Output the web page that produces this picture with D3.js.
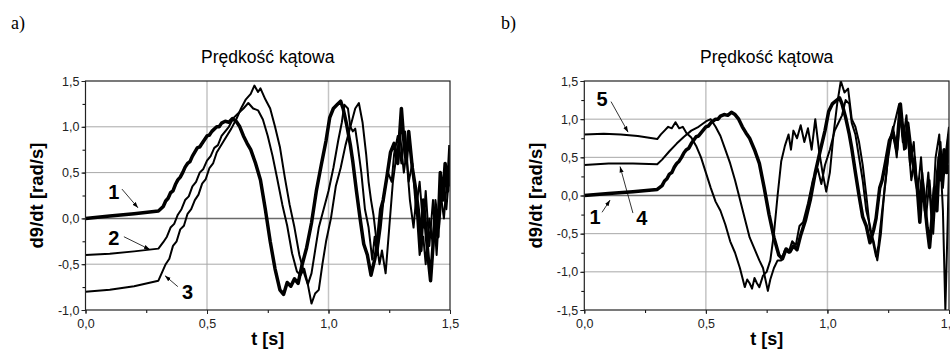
<!DOCTYPE html>
<html>
<head>
<meta charset="utf-8">
<script src="https://cdn.jsdelivr.net/npm/d3@7"></script>
<style>
  body { margin: 0; background: #fff; }
  svg { display: block; }
</style>
</head>
<body>
<svg width="950" height="354"></svg>
<script>
// ---- data (t [s], dθ/dt [rad/s]) ----
const curve1 = [[0,0],[0.1,0.025],[0.2,0.05],[0.3,0.08],[0.32,0.13],[0.33,0.19],[0.34,0.22],[0.35,0.28],[0.36,0.3],[0.37,0.37],[0.38,0.42],[0.39,0.45],[0.4,0.5],[0.41,0.56],[0.42,0.6],[0.43,0.62],[0.44,0.68],[0.46,0.77],[0.47,0.78],[0.48,0.82],[0.5,0.9],[0.51,0.91],[0.52,0.95],[0.54,1.0],[0.55,1.0],[0.56,1.04],[0.575,1.06],[0.59,1.05],[0.605,1.09],[0.62,1.06],[0.635,1.0],[0.65,0.9],[0.665,0.82],[0.68,0.75],[0.7,0.6],[0.72,0.42],[0.74,0.1],[0.76,-0.25],[0.78,-0.55],[0.8,-0.78],[0.815,-0.83],[0.83,-0.7],[0.845,-0.74],[0.86,-0.66],[0.875,-0.71],[0.89,-0.52],[0.91,-0.32],[0.93,-0.05],[0.95,0.3],[0.97,0.58],[0.99,0.85],[1.005,1.1],[1.02,1.2],[1.035,1.24],[1.05,1.28],[1.06,1.2],[1.075,1.02],[1.09,0.8],[1.1,0.62],[1.115,0.3],[1.13,0.0],[1.145,-0.28],[1.16,-0.4],[1.175,-0.62],[1.19,-0.45],[1.2,-0.3],[1.215,0.1],[1.225,0.2],[1.24,0.45],[1.255,0.72],[1.27,0.82],[1.285,0.6],[1.3,1.2],[1.31,0.85],[1.32,0.62],[1.33,0.95],[1.345,0.55],[1.36,0.3],[1.37,0.08],[1.38,-0.35],[1.39,0.2],[1.4,-0.1],[1.41,-0.42],[1.42,-0.68],[1.43,-0.3],[1.44,0.1],[1.45,-0.2],[1.46,0.5],[1.47,0.2],[1.48,0.6],[1.49,0.3],[1.5,0.8]];

const curve2 = [[0,-0.4],[0.1,-0.385],[0.2,-0.36],[0.3,-0.33],[0.32,-0.26],[0.335,-0.2],[0.35,-0.1],[0.365,-0.06],[0.38,0.04],[0.395,0.1],[0.41,0.2],[0.425,0.24],[0.44,0.35],[0.455,0.4],[0.47,0.5],[0.485,0.54],[0.5,0.63],[0.515,0.68],[0.53,0.77],[0.545,0.8],[0.56,0.9],[0.59,1.0],[0.61,1.1],[0.63,1.15],[0.65,1.2],[0.67,1.26],[0.69,1.2],[0.71,1.18],[0.73,1.08],[0.75,0.9],[0.77,0.68],[0.79,0.42],[0.81,0.15],[0.83,-0.08],[0.85,-0.38],[0.87,-0.58],[0.885,-0.62],[0.9,-0.55],[0.915,-0.72],[0.93,-0.6],[0.945,-0.35],[0.96,-0.1],[0.98,0.1],[1.0,0.3],[1.02,0.55],[1.04,0.85],[1.055,1.05],[1.065,1.24],[1.08,1.2],[1.09,1.0],[1.1,0.95],[1.11,0.98],[1.12,0.8],[1.135,0.5],[1.15,0.1],[1.165,-0.1],[1.18,-0.45],[1.19,-0.2],[1.2,-0.4],[1.215,-0.1],[1.23,0.3],[1.245,0.5],[1.26,0.4],[1.27,0.7],[1.285,0.9],[1.3,0.6],[1.315,0.95],[1.33,0.4],[1.345,0.6],[1.36,0.1],[1.375,0.4],[1.39,-0.1],[1.4,0.3],[1.415,-0.3],[1.43,0.2],[1.445,-0.4],[1.46,0.3],[1.475,0.0],[1.49,0.5],[1.5,0.35]];

const curve3 = [[0,-0.8],[0.1,-0.78],[0.2,-0.74],[0.3,-0.68],[0.31,-0.62],[0.33,-0.5],[0.345,-0.44],[0.36,-0.3],[0.375,-0.25],[0.39,-0.12],[0.405,-0.08],[0.42,0.05],[0.435,0.1],[0.45,0.2],[0.465,0.26],[0.48,0.38],[0.495,0.43],[0.51,0.55],[0.525,0.6],[0.54,0.72],[0.57,0.85],[0.6,0.98],[0.62,1.08],[0.64,1.2],[0.66,1.3],[0.68,1.36],[0.695,1.45],[0.71,1.38],[0.72,1.42],[0.74,1.3],[0.76,1.2],[0.78,1.0],[0.8,0.78],[0.82,0.45],[0.84,0.15],[0.86,-0.1],[0.88,-0.4],[0.9,-0.6],[0.915,-0.72],[0.93,-0.93],[0.945,-0.82],[0.96,-0.78],[0.975,-0.5],[0.99,-0.25],[1.01,0.0],[1.03,0.35],[1.05,0.55],[1.07,0.8],[1.09,1.0],[1.11,1.2],[1.125,1.26],[1.14,1.05],[1.155,0.7],[1.165,0.4],[1.175,0.2],[1.185,0.04],[1.2,-0.3],[1.21,-0.5],[1.22,-0.35],[1.235,-0.6],[1.25,-0.1],[1.265,0.4],[1.28,0.7],[1.295,0.9],[1.31,0.5],[1.32,0.7],[1.335,0.2],[1.35,-0.1],[1.36,0.2],[1.375,-0.4],[1.39,-0.2],[1.4,-0.5],[1.415,0.0],[1.43,-0.3],[1.44,0.2],[1.455,-0.1],[1.47,0.4],[1.485,0.1],[1.5,0.6]];

const curve4 = [[0,0.4],[0.1,0.42],[0.2,0.42],[0.3,0.41],[0.32,0.47],[0.35,0.58],[0.38,0.68],[0.41,0.77],[0.44,0.85],[0.47,0.9],[0.5,0.97],[0.52,1.0],[0.54,0.9],[0.56,0.78],[0.58,0.6],[0.6,0.42],[0.62,0.2],[0.64,-0.05],[0.66,-0.3],[0.68,-0.55],[0.7,-0.7],[0.72,-0.85],[0.735,-0.95],[0.745,-1.1],[0.755,-1.25],[0.765,-1.1],[0.78,-0.95],[0.795,-0.85],[0.81,-0.85],[0.825,-0.72],[0.84,-0.75],[0.855,-0.6],[0.87,-0.65],[0.885,-0.4],[0.9,-0.35],[0.92,-0.1],[0.94,0.2],[0.96,0.35],[0.975,0.15],[0.99,0.4],[1.01,0.6],[1.03,0.85],[1.045,0.95],[1.06,1.05],[1.075,1.25],[1.09,1.2],[1.1,0.95],[1.115,0.8],[1.13,0.5],[1.145,0.2],[1.16,-0.2],[1.175,-0.4],[1.19,-0.65],[1.2,-0.8],[1.21,-0.65],[1.225,-0.2],[1.24,0.2],[1.255,0.7],[1.27,0.9],[1.285,0.5],[1.3,1.1],[1.315,0.6],[1.33,0.8],[1.345,0.2],[1.36,0.5],[1.375,-0.1],[1.39,0.3],[1.405,-0.3],[1.42,0.2],[1.435,-0.5],[1.45,0.3],[1.465,0.7],[1.475,0.1],[1.485,0.5],[1.5,0.9]];

const curve5 = [[0,0.8],[0.08,0.81],[0.15,0.8],[0.22,0.78],[0.3,0.74],[0.315,0.8],[0.33,0.85],[0.345,0.9],[0.36,0.88],[0.375,0.96],[0.39,0.88],[0.405,0.9],[0.42,0.82],[0.44,0.76],[0.46,0.65],[0.48,0.5],[0.5,0.3],[0.52,0.1],[0.54,-0.08],[0.56,-0.2],[0.58,-0.38],[0.6,-0.6],[0.62,-0.75],[0.64,-0.95],[0.66,-1.2],[0.67,-1.1],[0.68,-1.15],[0.69,-1.22],[0.7,-1.08],[0.71,-1.15],[0.72,-1.2],[0.735,-1.05],[0.75,-1.0],[0.765,-0.85],[0.78,-0.5],[0.795,0.0],[0.81,0.45],[0.825,0.65],[0.84,0.8],[0.85,0.6],[0.86,0.85],[0.875,0.75],[0.89,0.92],[0.905,0.7],[0.92,0.88],[0.935,0.6],[0.95,1.0],[0.965,0.6],[0.98,0.3],[0.995,0.05],[1.01,0.3],[1.025,0.8],[1.04,1.2],[1.055,1.5],[1.07,1.35],[1.085,1.4],[1.1,1.0],[1.115,0.9],[1.13,0.7],[1.145,0.4],[1.16,0.0],[1.175,-0.45],[1.19,-0.6],[1.205,-0.85],[1.22,-0.5],[1.235,0.1],[1.25,0.5],[1.265,0.8],[1.28,1.0],[1.295,1.2],[1.31,0.7],[1.325,1.05],[1.34,0.4],[1.355,0.7],[1.37,0.0],[1.385,0.5],[1.4,-0.2],[1.415,0.3],[1.43,-0.4],[1.445,0.5],[1.46,0.8],[1.475,-0.2],[1.485,-1.5],[1.495,-0.3],[1.5,0.4]];

const xTicks = [0, 0.5, 1.0, 1.5];
const yTicksA = [-1.0, -0.5, 0.0, 0.5, 1.0, 1.5];
const yTicksB = [-1.5, -1.0, -0.5, 0.0, 0.5, 1.0, 1.5];

// annotation: label, label position, arrow start, arrow tip (data units)
const labelsA = [
  { text: "1", at: [0.117, 0.29], from: [0.150, 0.32], to: [0.216, 0.115] },
  { text: "2", at: [0.117, -0.216], from: [0.158, -0.2], to: [0.265, -0.34] },
  { text: "3", at: [0.42, -0.8], from: [0.38, -0.745], to: [0.327, -0.625] }
];
const labelsB = [
  { text: "5", at: [0.073, 1.26], from: [0.11, 1.23], to: [0.18, 0.83] },
  { text: "1", at: [0.044, -0.28], from: [0.073, -0.22], to: [0.106, -0.06] },
  { text: "4", at: [0.237, -0.30], from: [0.2, -0.23], to: [0.147, 0.38] }
];

const svg = d3.select("svg");
const fmt = v => v.toFixed(1).replace(".", ",");

svg.append("defs").append("marker")
  .attr("id", "arr")
  .attr("viewBox", "0 0 10 10")
  .attr("refX", 10).attr("refY", 5)
  .attr("markerWidth", 6).attr("markerHeight", 6)
  .attr("markerUnits", "userSpaceOnUse")
  .attr("orient", "auto")
  .append("path").attr("d", "M0,1.5L10,5L0,8.5Z").attr("fill", "#000");

function panel(opts) {
  const { id, left, right, top, bottom, yDomain, yTicks, series, labels, tag, tagX } = opts;
  const x = d3.scaleLinear().domain([0, 1.5]).range([left, right]);
  const y = d3.scaleLinear().domain(yDomain).range([bottom, top]);
  const g = svg.append("g");

  g.append("clipPath").attr("id", "clip" + id)
    .append("rect").attr("x", left).attr("y", top)
    .attr("width", right - left).attr("height", bottom - top);

  // grid
  g.selectAll(".vg").data(xTicks.slice(1, -1)).enter().append("line")
    .attr("x1", d => x(d)).attr("x2", d => x(d))
    .attr("y1", top).attr("y2", bottom)
    .attr("stroke", "#c4c4c4").attr("stroke-width", 1.5);
  g.selectAll(".hg").data(yTicks.slice(1, -1)).enter().append("line")
    .attr("x1", left).attr("x2", right)
    .attr("y1", d => y(d)).attr("y2", d => y(d))
    .attr("stroke", d => d === 0 ? "#6a6a6a" : "#a8a8a8")
    .attr("stroke-width", d => d === 0 ? 1.5 : 1);

  // minor ticks
  const minorX = d3.range(0, 1.5001, 0.25);
  const minorY = d3.range(yDomain[0], yDomain[1] + 0.001, 0.25);
  g.append("g").attr("transform", `translate(0,${bottom})`)
    .call(d3.axisBottom(x).tickValues(minorX).tickSize(3).tickSizeOuter(0).tickFormat(""))
    .call(a => a.select(".domain").remove());
  g.append("g").attr("transform", `translate(${left},0)`)
    .call(d3.axisLeft(y).tickValues(minorY).tickSize(3).tickSizeOuter(0).tickFormat(""))
    .call(a => a.select(".domain").remove());

  // major axes
  const ax = g.append("g").attr("transform", `translate(0,${bottom})`)
    .call(d3.axisBottom(x).tickValues(xTicks).tickSize(4).tickSizeOuter(0).tickPadding(5).tickFormat(fmt));
  const ay = g.append("g").attr("transform", `translate(${left},0)`)
    .call(d3.axisLeft(y).tickValues(yTicks).tickSize(4).tickSizeOuter(0).tickPadding(2).tickFormat(fmt));
  [ax, ay].forEach(a => {
    a.selectAll("text").attr("font-family", "Arial, 'Liberation Sans', sans-serif")
      .attr("font-size", 12.5).attr("fill", "#222");
    a.selectAll("line").attr("stroke", "#222");
    a.select(".domain").remove();
  });

  // curves
  const line = d3.line().x(d => x(d[0])).y(d => y(d[1]));
  const cg = g.append("g").attr("clip-path", `url(#clip${id})`);
  series.forEach(s => {
    cg.append("path").datum(s.data)
      .attr("d", line)
      .attr("fill", "none").attr("stroke", "#000")
      .attr("stroke-width", s.w).attr("stroke-linejoin", "round");
  });

  // frame
  g.append("rect").attr("x", left).attr("y", top)
    .attr("width", right - left).attr("height", bottom - top)
    .attr("fill", "none").attr("stroke", "#222").attr("stroke-width", 1.2);

  // curve labels
  labels.forEach(l => {
    g.append("line")
      .attr("x1", x(l.from[0])).attr("y1", y(l.from[1]))
      .attr("x2", x(l.to[0])).attr("y2", y(l.to[1]))
      .attr("stroke", "#000").attr("stroke-width", 0.8)
      .attr("marker-end", "url(#arr)");
    g.append("text").attr("x", x(l.at[0])).attr("y", y(l.at[1]))
      .attr("text-anchor", "middle").attr("dominant-baseline", "central")
      .attr("font-family", "Arial, 'Liberation Sans', sans-serif")
      .attr("font-weight", "bold").attr("font-size", 20)
      .text(l.text);
  });

  // titles
  const cx = (left + right) / 2;
  g.append("text").attr("x", cx).attr("y", 63).attr("text-anchor", "middle")
    .attr("font-family", "Arial, 'Liberation Sans', sans-serif").attr("font-size", 17.5)
    .text("Prędkość kątowa");
  g.append("text").attr("x", cx).attr("y", 345).attr("text-anchor", "middle")
    .attr("font-family", "Arial, 'Liberation Sans', sans-serif").attr("font-size", 18)
    .attr("font-weight", "bold").text("t [s]");
  g.append("text")
    .attr("transform", `translate(${left - 49},${(top + bottom) / 2}) rotate(-90)`)
    .attr("text-anchor", "middle").attr("dominant-baseline", "central")
    .attr("font-family", "Arial, 'Liberation Sans', sans-serif").attr("font-size", 18.5)
    .attr("font-weight", "bold").text("d9/dt [rad/s]");
  svg.append("text").attr("x", tagX).attr("y", 29)
    .attr("font-family", "'Liberation Serif', 'Times New Roman', serif").attr("font-size", 18)
    .text(tag);
}

panel({
  id: "a", left: 85.5, right: 450, top: 81, bottom: 310,
  yDomain: [-1.0, 1.5], yTicks: yTicksA,
  series: [{ data: curve3, w: 2 }, { data: curve2, w: 2 }, { data: curve1, w: 3.5 }],
  labels: labelsA, tag: "a)", tagX: 11
});

panel({
  id: "b", left: 584.3, right: 949, top: 81, bottom: 310,
  yDomain: [-1.5, 1.5], yTicks: yTicksB,
  series: [{ data: curve5, w: 2 }, { data: curve4, w: 2 }, { data: curve1, w: 3.5 }],
  labels: labelsB, tag: "b)", tagX: 501
});
</script>
</body>
</html>
